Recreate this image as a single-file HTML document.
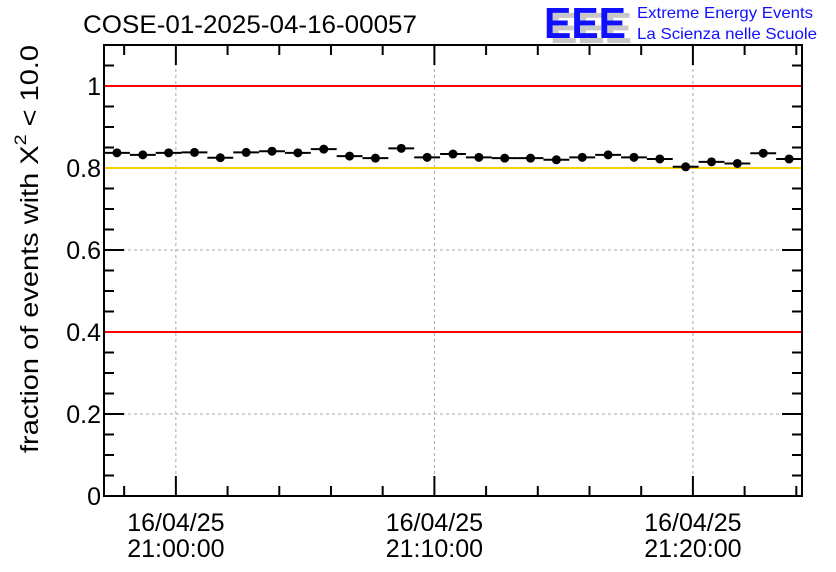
<!DOCTYPE html>
<html><head><meta charset="utf-8"><style>
html,body{margin:0;padding:0;background:#fff}
svg{display:block;font-family:"Liberation Sans",sans-serif}
</style></head><body>
<svg id="chart" width="836" height="572" viewBox="0 0 836 572" xmlns="http://www.w3.org/2000/svg">
<text x="83" y="33" font-size="25" fill="#000" textLength="334" lengthAdjust="spacingAndGlyphs">COSE-01-2025-04-16-00057</text>
<g>
<text x="550" y="43" font-size="44" font-weight="bold" fill="#c8c8c8" textLength="82" lengthAdjust="spacingAndGlyphs">EEE</text>
<text x="544" y="38" font-size="44" font-weight="bold" fill="#1010ff" textLength="82" lengthAdjust="spacingAndGlyphs">EEE</text>
<text x="637" y="18" font-size="16" fill="#1010ff" textLength="176" lengthAdjust="spacingAndGlyphs">Extreme Energy Events</text>
<text x="637" y="39" font-size="16" fill="#1010ff" textLength="180" lengthAdjust="spacingAndGlyphs">La Scienza nelle Scuole</text>
</g>
<g id="grid"></g>
<g id="axes"></g>
<g id="refs"></g>
<g id="marks"></g>
<text transform="translate(38,453) rotate(-90)" font-size="25" fill="#000" textLength="408" lengthAdjust="spacingAndGlyphs">fraction of events with X<tspan font-size="17" dy="-12">2</tspan><tspan dy="12"> &lt; 10.0</tspan></text>
</svg>
<script>
const values = [0.837,0.832,0.837,0.838,0.825,0.838,0.841,0.837,0.846,0.829,0.824,0.848,0.826,0.834,0.826,0.824,0.824,0.820,0.826,0.832,0.826,0.822,0.803,0.815,0.811,0.836,0.822];
const binStartMin = -2.78; // minutes relative to 21:00:00
const binWidthMin = 1;
const yTicks = [0,0.2,0.4,0.6,0.8,1];
const yTickLabels = ["0","0.2","0.4","0.6","0.8","1"];
const xTicksMin = [0,10,20];
const xTickDates = ["16/04/25","16/04/25","16/04/25"];
const xTickTimes = ["21:00:00","21:10:00","21:20:00"];
const refLines = [1.0,0.8,0.4];
const refColors = ["#ff0000","#ffcc00","#ff0000"];

const NS="http://www.w3.org/2000/svg";
const L=104,R=802,T=45,B=496;
const yMin=0,yMax=1.1;
const xMin=binStartMin, xMax=binStartMin+values.length*binWidthMin;
const xs=m=>L+(m-xMin)/(xMax-xMin)*(R-L);
const ys=v=>B-(v-yMin)/(yMax-yMin)*(B-T);
function mk(tag,attrs,parent){const e=document.createElementNS(NS,tag);for(const k in attrs)e.setAttribute(k,attrs[k]);parent.appendChild(e);return e;}
const grid=document.getElementById('grid'),axes=document.getElementById('axes'),refs=document.getElementById('refs'),marks=document.getElementById('marks');

yTicks.forEach((v,i)=>{
  const g=mk('line',{x1:L,x2:R,y1:ys(v),y2:ys(v),stroke:'#aaa','stroke-dasharray':'3,3','stroke-width':1},grid);
  
  
  const t=mk('text',{x:L-3,y:ys(v)+9,'text-anchor':'end','font-size':25,fill:'#000'},axes);
  t.textContent=yTickLabels[i];
  
  
});
xTicksMin.forEach((m,i)=>{
  const g=mk('line',{x1:xs(m),x2:xs(m),y1:T,y2:B,stroke:'#aaa','stroke-dasharray':'3,3','stroke-width':1},grid);
  
  
  const t=mk('text',{x:xs(m),y:531,'text-anchor':'middle','font-size':25,fill:'#000'},axes);
  t.textContent=xTickDates[i];
  
  
  const t2=mk('text',{x:xs(m),y:557,'text-anchor':'middle','font-size':25,fill:'#000'},axes);
  t2.textContent=xTickTimes[i];
  
  
});
// frame
const fr=mk('rect',{x:L,y:T,width:R-L,height:B-T,fill:'none',stroke:'#000','stroke-width':2},axes);


for(let k=0;k<=22;k++){const v=k*0.05;const len=(k%4===0)?20:10;
  mk('line',{x1:L,x2:L+len,y1:ys(v),y2:ys(v),stroke:'#000','stroke-width':2},axes);
  mk('line',{x1:R,x2:R-len,y1:ys(v),y2:ys(v),stroke:'#000','stroke-width':2},axes);}
for(let m=Math.ceil(xMin/2)*2;m<=xMax;m+=2){const len=(m%10===0)?20:10;
  mk('line',{x1:xs(m),x2:xs(m),y1:B,y2:B-len,stroke:'#000','stroke-width':2},axes);
  mk('line',{x1:xs(m),x2:xs(m),y1:T,y2:T+len,stroke:'#000','stroke-width':2},axes);}
refLines.forEach((v,i)=>{
  const l=mk('line',{x1:L+1,x2:R-1,y1:ys(v),y2:ys(v),stroke:refColors[i],'stroke-width':2},refs);
  
  
});
values.forEach((v,i)=>{
  const a=xMin+i*binWidthMin,b=a+binWidthMin,c=(a+b)/2;
  const h=mk('line',{x1:xs(a),x2:xs(b),y1:ys(v),y2:ys(v),stroke:'#000','stroke-width':2},marks);
  
  
  const p=mk('circle',{cx:xs(c),cy:ys(v),r:4.5,fill:'#000'},marks);
  
  
});
</script>
</body></html>
